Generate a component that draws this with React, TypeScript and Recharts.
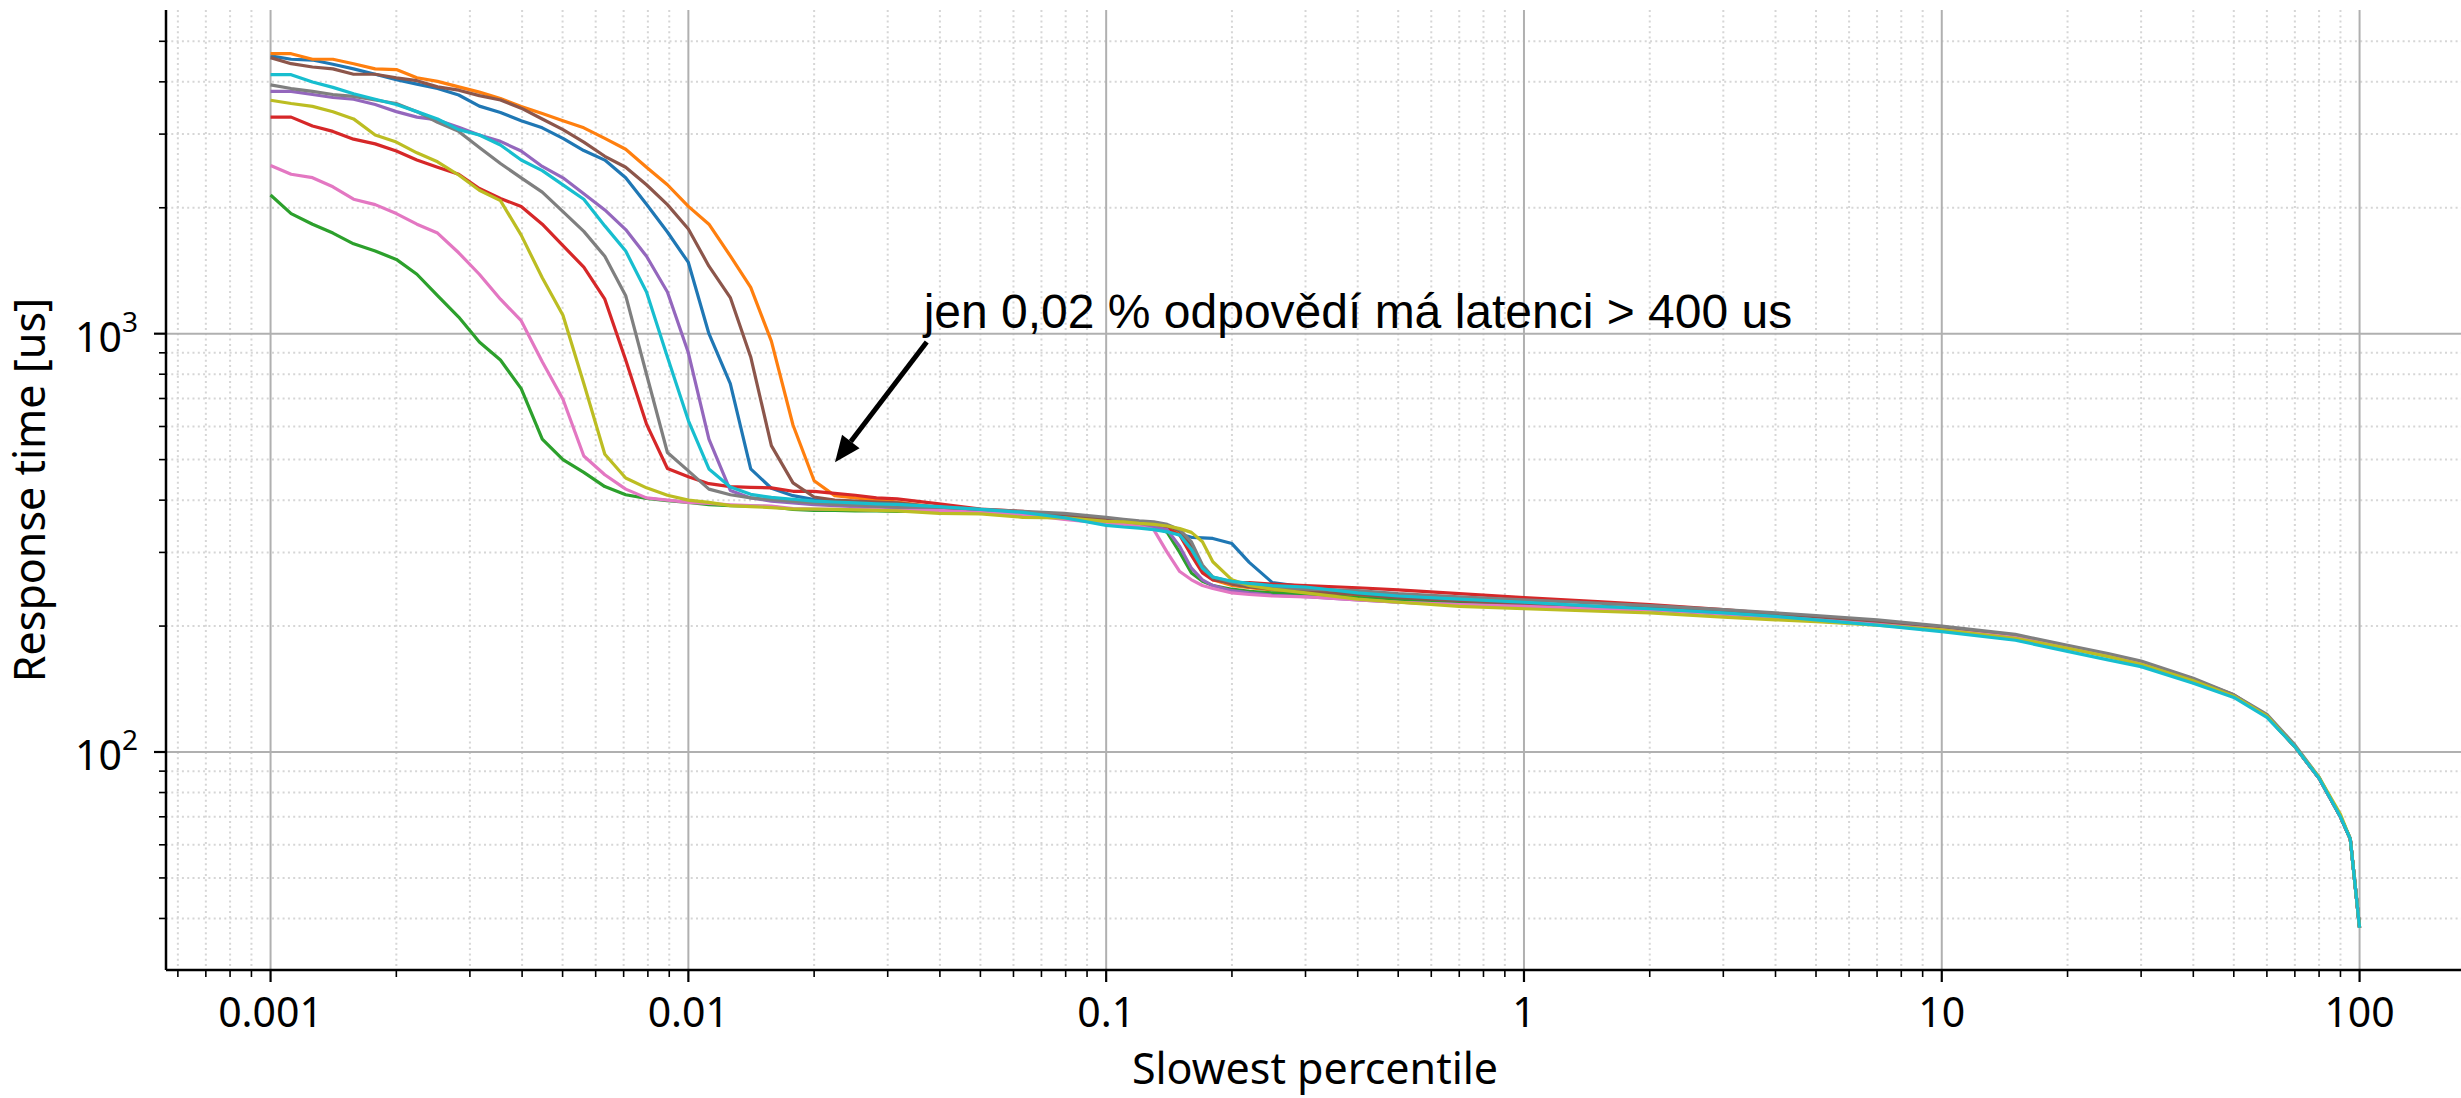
import React from 'react';
import { LineChart, Line, XAxis, YAxis, CartesianGrid, ReferenceLine, ReferenceDot } from 'recharts';

// ---- data ----
const percentiles = [
  0.001, 0.00112, 0.00126, 0.00141, 0.00158, 0.00178, 0.002, 0.00224, 0.00251, 0.00282,
  0.00316, 0.00355, 0.00398, 0.00447, 0.00501, 0.00562, 0.00631, 0.00708, 0.00794, 0.00891,
  0.01, 0.0112, 0.0126, 0.0141, 0.0158, 0.0178, 0.02, 0.0224, 0.0251, 0.0282, 0.0316,
  0.0398, 0.0501, 0.0631, 0.0794, 0.1,
  0.11, 0.12, 0.13, 0.14, 0.15, 0.16, 0.17, 0.18, 0.2, 0.22, 0.25, 0.3,
  0.4, 0.5, 0.7, 1, 1.5, 2, 3, 4, 5, 7, 10, 15, 20, 25, 30, 40, 50, 60, 70, 80, 90, 95, 100,
];

const seriesBlue = [
  4615, 4530, 4510, 4406, 4295, 4170, 4050, 3950, 3855, 3720, 3500, 3380, 3230, 3105, 2930, 2740, 2600, 2360, 2040, 1750,
  1480, 1000, 760, 475, 427, 410, 401, 399, 397, 395, 393,
  383, 377, 372, 366, 357,
  354, 350, 346, 340, 332, 326, 325, 324, 315, 284, 254, 248,
  240, 234, 229, 225, 222, 220, 215, 211, 208, 203, 197, 188, 177, 170, 163, 148, 136, 122, 103, 86.5, 70, 62, 38,
];
const seriesOrange = [
  4670, 4670, 4530, 4530, 4420, 4295, 4280, 4090, 4010, 3890, 3780, 3650, 3490, 3360, 3230, 3105, 2930, 2760, 2500, 2270,
  2015, 1827, 1534, 1290, 960, 605, 445, 410, 405, 400, 396,
  384, 378, 373, 366, 358,
  355, 352, 350, 345, 335, 300, 270, 258, 250, 247, 244, 240,
  236, 232, 228, 225, 222, 220, 215, 211, 208, 203, 197, 188, 178, 170, 163, 148, 136, 122, 103, 86.5, 70, 62, 38,
];
const seriesGreen = [
  2145, 1937, 1827, 1740, 1640, 1576, 1505, 1387, 1233, 1096, 955, 865, 739, 560, 500, 466, 431, 412, 404, 399,
  395, 390, 388, 387, 386, 380, 378, 378, 377, 377, 376,
  377, 374, 370, 362, 354,
  352, 348, 345, 335, 300, 268, 256, 250, 245, 242, 240, 238,
  234, 231, 227, 224, 221, 219, 214, 210, 207, 202, 197, 188, 178, 170, 163, 148, 136, 122, 103, 86.5, 70, 62, 38,
];
const seriesRed = [
  3294, 3294, 3136, 3045, 2918, 2843, 2733, 2602, 2501, 2405, 2223, 2104, 2015, 1827, 1623, 1443, 1209, 865, 608, 476,
  455, 438, 431, 429, 428, 420, 420, 415, 411, 405, 403,
  392, 381, 376, 365, 355,
  352, 350, 347, 342, 330, 295, 268, 258, 254, 254, 252, 250,
  247, 244, 239, 234, 229, 225, 219, 214, 210, 205, 198, 189, 178, 170, 163, 148, 136, 122, 103, 86.5, 70, 62, 38,
];
const seriesPurple = [
  3795, 3795, 3730, 3670, 3634, 3530, 3395, 3294, 3243, 3117, 2985, 2882, 2733, 2511, 2358, 2160, 1976, 1774, 1531, 1258,
  900, 560, 422, 405, 398, 394, 390, 388, 386, 385, 384,
  380, 375, 371, 364, 355,
  352, 348, 345, 340, 310, 275, 258, 250, 243, 240, 237, 235,
  231, 228, 225, 222, 220, 219, 214, 210, 207, 202, 196, 188, 178, 170, 163, 148, 136, 122, 103, 86.5, 70, 62, 38,
];
const seriesBrown = [
  4570, 4420, 4340, 4295, 4170, 4170, 4090, 4025, 3890, 3820, 3707, 3620, 3460, 3260, 3075, 2870, 2655, 2500, 2270, 2035,
  1780, 1450, 1220, 880, 540, 440, 407, 400, 398, 396, 394,
  384, 378, 374, 367, 360,
  357, 355, 352, 347, 338, 310, 275, 260, 252, 248, 245, 242,
  238, 234, 230, 226, 223, 221, 216, 212, 209, 204, 198, 189, 179, 171, 164, 149, 137, 122, 103, 86.5, 70, 62, 38,
];
const seriesPink = [
  2525, 2405, 2360, 2245, 2096, 2035, 1937, 1827, 1740, 1561, 1387, 1209, 1074, 857, 697, 510, 460, 425, 405, 400,
  395, 393, 390, 388, 387, 382, 381, 380, 380, 379, 378,
  378, 374, 370, 360, 352,
  350, 346, 340, 300, 270, 258, 250, 246, 240, 238, 236, 235,
  231, 228, 225, 223, 220, 219, 214, 210, 207, 202, 196, 188, 178, 170, 163, 148, 136, 122, 103, 86.5, 70, 62, 38,
];
const seriesGray = [
  3932, 3855, 3795, 3730, 3692, 3620, 3550, 3394, 3200, 3045, 2787, 2552, 2358, 2180, 1957, 1756, 1531, 1233, 800, 520,
  470, 425, 412, 405, 401, 397, 394, 391, 389, 387, 385,
  385, 380, 376, 372, 364,
  360, 357, 355, 350, 340, 318, 280, 262, 255, 250, 248, 245,
  243, 239, 235, 231, 227, 224, 219, 215, 212, 207, 200, 191, 180, 172, 165, 150, 137, 123, 104, 87, 70, 62, 38,
];
const seriesOlive = [
  3614, 3550, 3494, 3393, 3262, 2985, 2871, 2706, 2576, 2395, 2202, 2080, 1720, 1360, 1107, 760, 515, 452, 428, 411,
  400, 395, 388, 386, 384, 381, 381, 380, 379, 378, 377,
  372, 371, 364, 363, 356,
  355, 352, 350, 347, 342, 335, 318, 285, 258, 250, 245, 240,
  232, 228, 223, 220, 217, 215, 210, 207, 205, 201, 196, 187, 177, 169, 162, 148, 136, 122, 103, 87, 71, 62, 38,
];
const seriesCyan = [
  4160, 4160, 3995, 3880, 3745, 3634, 3530, 3395, 3260, 3075, 2985, 2826, 2602, 2453, 2268, 2096, 1810, 1576, 1258, 880,
  620, 475, 430, 413, 406, 402, 398, 396, 394, 392, 391,
  386, 380, 374, 363, 348,
  345, 343, 340, 336, 330, 305, 275, 262, 256, 253, 250, 248,
  240, 236, 232, 228, 223, 220, 215, 211, 207, 201, 194, 185, 174, 166, 160, 146, 135, 121, 103, 86.5, 70, 62, 38,
];

const allSeries = [
  seriesBlue, seriesOrange, seriesGreen, seriesRed, seriesPurple,
  seriesBrown, seriesPink, seriesGray, seriesOlive, seriesCyan,
];
const seriesColors = [
  '#1f77b4', '#ff7f0e', '#2ca02c', '#d62728', '#9467bd',
  '#8c564b', '#e377c2', '#7f7f7f', '#bcbd22', '#17becf',
];

// ---- axes ----
const xMajorTicks = [0.001, 0.01, 0.1, 1, 10, 100];
const xTickLabels = ['0.001', '0.01', '0.1', '1', '10', '100'];
const xMinorTicks = [
  0.0006, 0.0007, 0.0008, 0.0009,
  0.002, 0.003, 0.004, 0.005, 0.006, 0.007, 0.008, 0.009,
  0.02, 0.03, 0.04, 0.05, 0.06, 0.07, 0.08, 0.09,
  0.2, 0.3, 0.4, 0.5, 0.6, 0.7, 0.8, 0.9,
  2, 3, 4, 5, 6, 7, 8, 9,
  20, 30, 40, 50, 60, 70, 80, 90,
];
const yMajorTicks = [100, 1000];
const yTickExponents = ['2', '3'];
const yMinorTicks = [
  40, 50, 60, 70, 80, 90,
  200, 300, 400, 500, 600, 700, 800, 900,
  2000, 3000, 4000, 5000,
];
const xDomain = [0.000562, 177.8];
const yDomain = [30.12, 5940];

const xLabel = 'Slowest percentile';
const yLabel = 'Response time [us]';
const annotationText = 'jen 0,02 % odpovědí má latenci > 400 us';
const arrowTail = { x: 0.0372, y: 955 };
const arrowTip = { x: 0.02244, y: 493 };
const annotationPoint = { x: 0.03657, y: 1030 };

// ---- layout ----
const CHART_W = 2470;
const CHART_H = 1098;
const PLOT_LEFT = 166;
const PLOT_TOP = 10;
const PLOT_BOTTOM = 970;
const TICK_FONT = "'Noto Sans', sans-serif";

const chartData = percentiles.map((p, i) => {
  const row: Record<string, number> = { x: p };
  allSeries.forEach((s, k) => {
    row['s' + k] = s[i];
  });
  return row;
});

const XTick = (props: any) => {
  const { x, payload } = props;
  const idx = xMajorTicks.indexOf(payload.value);
  const major = idx >= 0;
  return (
    <g>
      <line x1={x} x2={x} y1={PLOT_BOTTOM} y2={PLOT_BOTTOM + (major ? 12 : 7)} stroke="#000" strokeWidth={major ? 2.2 : 1.6} />
      {major && (
        <text x={x} y={1027} textAnchor="middle" fontFamily={TICK_FONT} fontSize={41} fill="#000">
          {xTickLabels[idx]}
        </text>
      )}
    </g>
  );
};

const YTick = (props: any) => {
  const { y, payload } = props;
  const idx = yMajorTicks.indexOf(payload.value);
  const major = idx >= 0;
  return (
    <g>
      <line x1={PLOT_LEFT - (major ? 12 : 7)} x2={PLOT_LEFT} y1={y} y2={y} stroke="#000" strokeWidth={major ? 2.2 : 1.6} />
      {major && (
        <text x={138} y={y + 18} textAnchor="end" fontFamily={TICK_FONT} fontSize={41} fill="#000">
          <tspan>10</tspan>
          <tspan dy={-20} fontSize={28}>{yTickExponents[idx]}</tspan>
        </text>
      )}
    </g>
  );
};

const ArrowShape = (props: any) => {
  const { x1, y1, x2, y2 } = props;
  const dx = x2 - x1;
  const dy = y2 - y1;
  const len = Math.hypot(dx, dy) || 1;
  const ux = dx / len;
  const uy = dy / len;
  const headLen = 26;
  const headHalf = 11;
  const bx = x2 - ux * headLen;
  const by = y2 - uy * headLen;
  const px = -uy;
  const py = ux;
  return (
    <g>
      <line x1={x1} y1={y1} x2={bx} y2={by} stroke="#000" strokeWidth={5} />
      <polygon
        points={`${x2},${y2} ${bx + px * headHalf},${by + py * headHalf} ${bx - px * headHalf},${by - py * headHalf}`}
        fill="#000"
      />
    </g>
  );
};

const AnnotationText = (props: any) => (
  <text x={props.cx} y={props.cy} fontFamily="'Liberation Sans', Arial, sans-serif" fontSize={48} fill="#000">
    {annotationText}
  </text>
);

const YLabel = () => (
  <text
    transform={`translate(45, ${(PLOT_TOP + PLOT_BOTTOM) / 2}) rotate(-90)`}
    textAnchor="middle"
    fontFamily={TICK_FONT}
    fontSize={43}
    fill="#000"
  >
    {yLabel}
  </text>
);

const XLabel = () => (
  <text x={(PLOT_LEFT + 2464) / 2} y={1084} textAnchor="middle" fontFamily={TICK_FONT} fontSize={43} fill="#000">
    {xLabel}
  </text>
);

export default function App() {
  return (
    <div style={{ position: 'absolute', left: 0, top: 0, width: 2461, height: 1098, overflow: 'hidden', background: '#fff' }}>
      <LineChart width={CHART_W} height={CHART_H} data={chartData} margin={{ top: PLOT_TOP, right: 6, bottom: 0, left: 0 }}>
        <CartesianGrid
          verticalValues={xMinorTicks}
          horizontalValues={yMinorTicks}
          stroke="#d6d6d6"
          strokeWidth={2}
          strokeDasharray="2 3.3"
        />
        <CartesianGrid verticalValues={xMajorTicks} horizontalValues={yMajorTicks} stroke="#b0b0b0" strokeWidth={2} />
        <XAxis
          dataKey="x"
          type="number"
          scale="log"
          domain={xDomain}
          allowDataOverflow
          ticks={[...xMinorTicks, ...xMajorTicks]}
          interval={0}
          tick={<XTick />}
          tickLine={false}
          axisLine={{ stroke: '#000', strokeWidth: 2.5 }}
          height={128}
          label={<XLabel />}
        />
        <XAxis
          xAxisId="top"
          orientation="top"
          dataKey="x"
          type="number"
          scale="log"
          domain={xDomain}
          allowDataOverflow
          tick={false}
          tickLine={false}
          axisLine={{ stroke: '#000', strokeWidth: 2.5 }}
          height={0}
        />
        <YAxis
          type="number"
          scale="log"
          domain={yDomain}
          allowDataOverflow
          ticks={[...yMinorTicks, ...yMajorTicks]}
          interval={0}
          tick={<YTick />}
          tickLine={false}
          axisLine={{ stroke: '#000', strokeWidth: 2.5 }}
          width={PLOT_LEFT}
          label={<YLabel />}
        />
        {allSeries.map((_, k) => (
          <Line
            key={k}
            dataKey={'s' + k}
            type="linear"
            stroke={seriesColors[k]}
            strokeWidth={3.2}
            strokeLinejoin="round"
            dot={false}
            activeDot={false}
            isAnimationActive={false}
          />
        ))}
        <ReferenceLine segment={[arrowTail, arrowTip]} shape={ArrowShape} />
        <ReferenceDot x={annotationPoint.x} y={annotationPoint.y} r={0} shape={AnnotationText} />
      </LineChart>
    </div>
  );
}
